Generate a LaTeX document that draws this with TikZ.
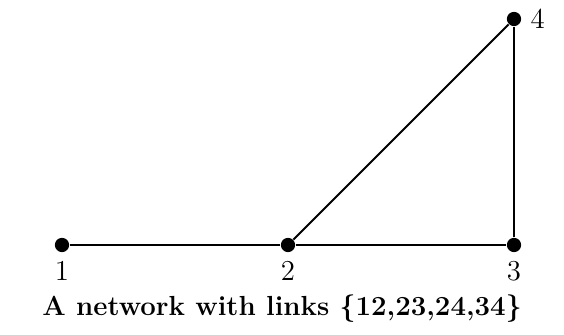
\documentclass[tikz,border=0pt]{standalone}
\usepackage{tikz}
\usetikzlibrary{positioning}

\begin{document}
\begin{tikzpicture}[
        x=0.014cm, y=-0.014cm,
        every label/.style={font=\fontsize{11.5}{13}\selectfont},
        dot/.style={circle, fill, inner sep=0pt, minimum size=0.2cm},
        link/.style={thick}
      ]
        \useasboundingbox (0,0) rectangle (564,335);
        \node[dot, label=below:1] (n1) at (62,245) {};
        \node[dot, label=below:2] (n2) at (288,245) {};
        \node[dot, label=below:3] (n3) at (514,245) {};
        \node[dot, label=right:4] (n4) at (514,19) {};
        \draw[link] (n1) -- (n2);
        \draw[link] (n2) -- (n3);
        \draw[link] (n2) -- (n4);
        \draw[link] (n3) -- (n4);
        \node[font=\fontsize{11}{13}\selectfont\bfseries] (cap) at (282,309) {A network with links \{12,23,24,34\}};
      \end{tikzpicture}
\end{document}
